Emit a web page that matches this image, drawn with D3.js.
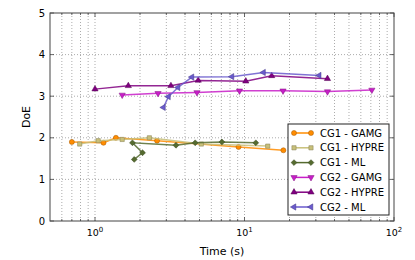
<!DOCTYPE html>
<html>
<head>
<meta charset="utf-8">
<script src="https://d3js.org/d3.v7.min.js"></script>
<style>
  body { margin: 0; background: #fff; }
  text { font-family: "DejaVu Sans", sans-serif; fill: #000; }
</style>
</head>
<body>
<div id="chart"></div>
<script>
// data: time (s) and DoE per run
var seriesNames = ["CG1 - GAMG", "CG1 - HYPRE", "CG1 - ML", "CG2 - GAMG", "CG2 - HYPRE", "CG2 - ML"];

var cg1GamgTime  = [0.70, 1.14, 1.38, 2.60, 9.12, 18.2];
var cg1GamgDoe   = [1.90, 1.88, 2.00, 1.93, 1.78, 1.70];
var cg1HypreTime = [0.79, 1.05, 1.52, 2.31, 5.14, 14.3];
var cg1HypreDoe  = [1.85, 1.93, 1.96, 2.00, 1.85, 1.80];
var cg1MlTime    = [1.83, 2.08, 1.78, 3.48, 4.68, 7.06, 11.9];
var cg1MlDoe     = [1.48, 1.64, 1.88, 1.82, 1.88, 1.90, 1.88];
var cg2GamgTime  = [1.52, 2.64, 4.81, 9.26, 18.1, 35.9, 71.1];
var cg2GamgDoe   = [3.03, 3.07, 3.09, 3.13, 3.13, 3.11, 3.15];
var cg2HypreTime = [1.00, 1.67, 3.22, 4.90, 10.2, 15.2, 35.9];
var cg2HypreDoe  = [3.17, 3.25, 3.25, 3.38, 3.36, 3.49, 3.42];
var cg2MlTime    = [2.87, 3.10, 3.59, 4.45, 8.24, 13.4, 31.6];
var cg2MlDoe     = [2.73, 2.99, 3.21, 3.46, 3.47, 3.57, 3.50];

var yTicks = [0, 1, 2, 3, 4, 5];
var xMajor = [1, 10, 100];

var times = [cg1GamgTime, cg1HypreTime, cg1MlTime, cg2GamgTime, cg2HypreTime, cg2MlTime];
var does  = [cg1GamgDoe, cg1HypreDoe, cg1MlDoe, cg2GamgDoe, cg2HypreDoe, cg2MlDoe];

var colors  = ["#ff8c00", "#c8c07a", "#556b2f", "#c81ec8", "#800080", "#6a5acd"];
// diamond is a square turned 45 degrees, like matplotlib's "D"
var symbols = [
  {type: d3.symbolCircle,   size: 20, rot: 0},
  {type: d3.symbolSquare,   size: 18, rot: 0},
  {type: d3.symbolSquare,   size: 17, rot: 45},
  {type: d3.symbolTriangle, size: 17, rot: 180},
  {type: d3.symbolTriangle, size: 17, rot: 0},
  {type: d3.symbolTriangle, size: 17, rot: -90}
];

// set the dimensions and margins of the graph
var margin = {top: 13, right: 21, bottom: 39, left: 50},
    width = 415 - margin.left - margin.right,
    height = 260 - margin.top - margin.bottom;

var svg = d3.select("#chart")
  .append("svg")
    .attr("width", 415)
    .attr("height", 260)
  .append("g")
    .attr("transform", "translate(" + margin.left + "," + margin.top + ")");

var x = d3.scaleLog().domain([0.5, 100]).range([0, width]);
var y = d3.scaleLinear().domain([0, 5]).range([height, 0]);

// minor tick positions for the log axis
var xMinor = [];
[0.1, 1, 10].forEach(function(dec) {
  for (var k = 2; k <= 9; k++) {
    var v = dec * k;
    if (v > 0.5 && v < 100) xMinor.push(v);
  }
});

// grid
var grid = svg.append("g")
    .attr("stroke", "#888")
    .attr("stroke-width", 0.7)
    .attr("stroke-dasharray", "1,2");
grid.selectAll(".gx").data(xMinor.concat([1, 10])).enter().append("line")
    .attr("x1", function(d) { return x(d); }).attr("x2", function(d) { return x(d); })
    .attr("y1", 0).attr("y2", height);
grid.selectAll(".gy").data([1, 2, 3, 4]).enter().append("line")
    .attr("x1", 0).attr("x2", width)
    .attr("y1", function(d) { return y(d); }).attr("y2", function(d) { return y(d); });

// series lines and markers
var line = d3.line()
    .x(function(d) { return x(d[0]); })
    .y(function(d) { return y(d[1]); });

function drawMarker(g, i, px, py) {
  g.append("path")
      .attr("d", d3.symbol().type(symbols[i].type).size(symbols[i].size)())
      .attr("transform", "translate(" + px + "," + py + ") rotate(" + symbols[i].rot + ")")
      .attr("fill", colors[i])
      .attr("stroke", d3.color(colors[i]).darker(1.2))
      .attr("stroke-width", 0.5);
}

seriesNames.forEach(function(name, i) {
  var pts = times[i].map(function(t, j) { return [t, does[i][j]]; });
  var g = svg.append("g");
  g.append("path")
      .datum(pts)
      .attr("fill", "none")
      .attr("stroke", colors[i])
      .attr("stroke-width", 1.5)
      .attr("opacity", 0.85)
      .attr("d", line);
  pts.forEach(function(p) { drawMarker(g, i, x(p[0]), y(p[1])); });
});

// frame and inward ticks
svg.append("rect")
    .attr("width", width).attr("height", height)
    .attr("fill", "none").attr("stroke", "#444").attr("stroke-width", 1);

var ticks = svg.append("g").attr("stroke", "#444").attr("stroke-width", 0.8);
xMajor.concat(xMinor).forEach(function(v) {
  var len = xMajor.indexOf(v) >= 0 ? 4 : 2;
  ticks.append("line").attr("x1", x(v)).attr("x2", x(v)).attr("y1", height).attr("y2", height - len);
  ticks.append("line").attr("x1", x(v)).attr("x2", x(v)).attr("y1", 0).attr("y2", len);
});
yTicks.forEach(function(v) {
  ticks.append("line").attr("x1", 0).attr("x2", 4).attr("y1", y(v)).attr("y2", y(v));
  ticks.append("line").attr("x1", width).attr("x2", width - 4).attr("y1", y(v)).attr("y2", y(v));
});

// tick labels
svg.selectAll(".ylab").data(yTicks).enter().append("text")
    .attr("x", -5)
    .attr("y", function(d) { return y(d); })
    .attr("dy", "0.36em")
    .attr("text-anchor", "end")
    .style("font-size", "10px")
    .text(function(d) { return d; });

xMajor.forEach(function(v, i) {
  var t = svg.append("text")
      .attr("x", x(v))
      .attr("y", height + 15)
      .attr("text-anchor", "middle")
      .style("font-size", "9.5px");
  t.append("tspan").text("10");
  t.append("tspan").attr("dy", "-4").style("font-size", "7px").text(i);
});

// axis labels
svg.append("text")
    .attr("x", width / 2)
    .attr("y", height + 34)
    .attr("text-anchor", "middle")
    .style("font-size", "11px")
    .text("Time (s)");

svg.append("text")
    .attr("transform", "rotate(-90)")
    .attr("x", -height / 2)
    .attr("y", -20)
    .attr("text-anchor", "middle")
    .style("font-size", "11px")
    .text("DoE");

// legend
var lg = svg.append("g").attr("transform", "translate(" + (288 - margin.left) + "," + (124 - margin.top) + ")");
lg.append("rect")
    .attr("width", 101).attr("height", 91)
    .attr("fill", "#fff").attr("stroke", "#222").attr("stroke-width", 1);
seriesNames.forEach(function(name, i) {
  var ry = 9 + i * 14.8;
  lg.append("line")
      .attr("x1", 6).attr("x2", 23).attr("y1", ry).attr("y2", ry)
      .attr("stroke", colors[i]).attr("stroke-width", 1.5);
  drawMarker(lg, i, 6, ry);
  drawMarker(lg, i, 23, ry);
  lg.append("text")
      .attr("x", 32)
      .attr("y", ry)
      .attr("dy", "0.36em")
      .style("font-size", "10px")
      .text(name);
});
</script>
</body>
</html>
